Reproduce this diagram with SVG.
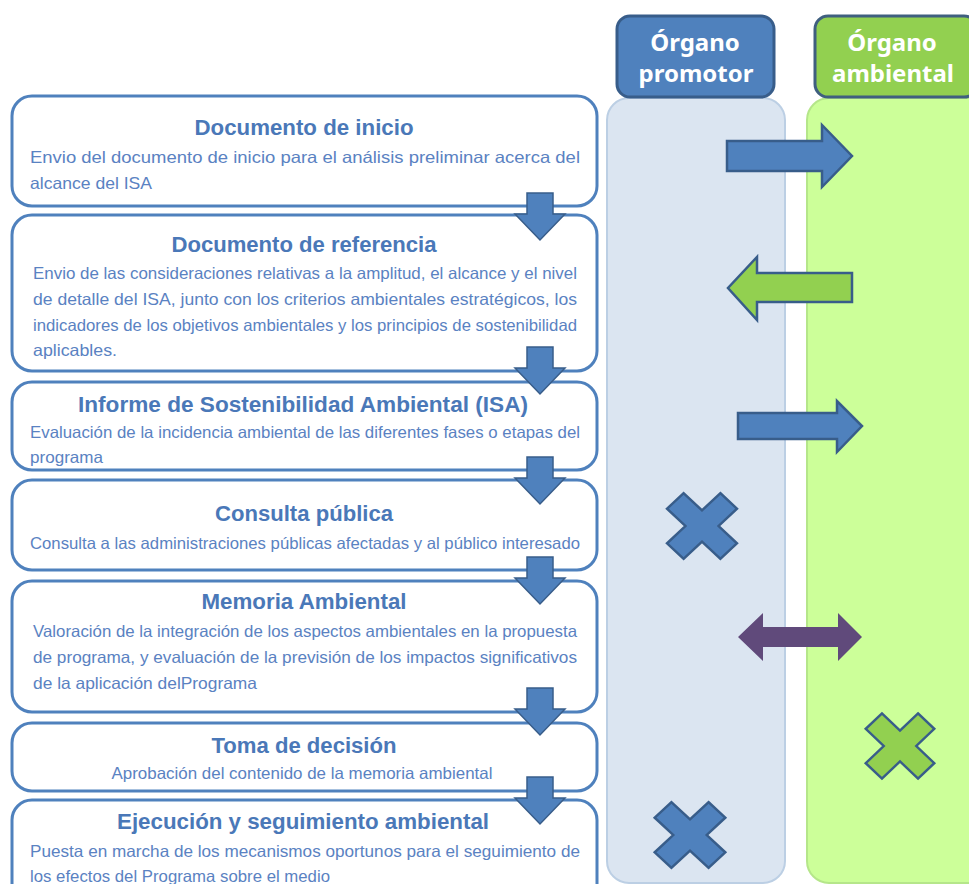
<svg xmlns="http://www.w3.org/2000/svg" width="969" height="884" viewBox="0 0 969 884">
<style>
.lane1{fill:#dbe5f1;stroke:#bccfe4;stroke-width:2}
.lane2{fill:#ccff99;stroke:#b5e68a;stroke-width:2}
.hdr1{fill:#4f81bd;stroke:#385d8a;stroke-width:3}
.hdr2{fill:#92d050;stroke:#3f5f7f;stroke-width:3}
.hdrtxt{font-family:"Noto Sans","Open Sans",sans-serif;font-weight:700;font-size:24px;fill:#ffffff;text-anchor:middle}
.box{fill:#ffffff;stroke:#4f81bd;stroke-width:3}
.title{font-family:"Liberation Sans",Arial,sans-serif;font-weight:700;font-size:22px;fill:#4a78b8;text-anchor:middle}
.body{font-family:"Liberation Sans",Arial,sans-serif;font-size:16.5px;fill:#5a82c2}
.ctr{text-anchor:middle}
.down{fill:#4f81bd;stroke:#385d8a;stroke-width:1.5}
.blue{fill:#4f81bd;stroke:#385d8a;stroke-width:2.5}
.green{fill:#92d050;stroke:#385d8a;stroke-width:2.5}
.purple{fill:#604a7b}
</style>
<defs>
<polygon id="cross" points="-11.5,-37 11.5,-37 11.5,-11.5 37,-11.5 37,11.5 11.5,11.5 11.5,37 -11.5,37 -11.5,11.5 -37,11.5 -37,-11.5 -11.5,-11.5" transform="rotate(45)"/>
</defs>
<rect width="969" height="884" fill="#ffffff"/>

<g id="lane-promotor">
<rect class="lane1" x="607" y="98" width="178" height="785" rx="22"/>
</g>
<g id="lane-ambiental">
<rect class="lane2" x="807" y="98" width="185" height="785" rx="22"/>
</g>

<g id="hdr-promotor">
<rect class="hdr1" x="617" y="16" width="157" height="81" rx="13"/>
<text class="hdrtxt" x="695" y="51">Órgano</text>
<text class="hdrtxt" x="696" y="82">promotor</text>
</g>
<g id="hdr-ambiental">
<rect class="hdr2" x="815" y="16" width="162" height="81" rx="13"/>
<text class="hdrtxt" x="892" y="51">Órgano</text>
<text class="hdrtxt" x="893" y="82">ambiental</text>
</g>

<g id="n1">
<rect class="box" x="12" y="96" width="585" height="110" rx="20"/>
<text class="title" x="304" y="135" textLength="219" lengthAdjust="spacingAndGlyphs">Documento de inicio</text>
<text class="body" x="30" y="163" textLength="550" lengthAdjust="spacingAndGlyphs">Envio del documento de inicio para el análisis preliminar  acerca del</text>
<text class="body" x="30" y="189" textLength="122" lengthAdjust="spacingAndGlyphs">alcance del ISA</text>
</g>
<g id="n2">
<rect class="box" x="12" y="215" width="585" height="156" rx="20"/>
<text class="title" x="304" y="252" textLength="265" lengthAdjust="spacingAndGlyphs">Documento de referencia</text>
<text class="body" x="33" y="279" textLength="544" lengthAdjust="spacingAndGlyphs">Envio de las consideraciones relativas a la amplitud, el alcance  y el nivel</text>
<text class="body" x="33" y="305" textLength="544" lengthAdjust="spacingAndGlyphs">de detalle del ISA, junto con los criterios ambientales estratégicos, los</text>
<text class="body" x="33" y="331" textLength="544" lengthAdjust="spacingAndGlyphs">indicadores de los objetivos ambientales y los principios de sostenibilidad</text>
<text class="body" x="33" y="356" textLength="84" lengthAdjust="spacingAndGlyphs">aplicables.</text>
</g>
<g id="n3">
<rect class="box" x="12" y="382" width="585" height="88" rx="20"/>
<text class="title" x="303" y="412" textLength="450" lengthAdjust="spacingAndGlyphs">Informe de Sostenibilidad Ambiental (ISA)</text>
<text class="body" x="30" y="438" textLength="550" lengthAdjust="spacingAndGlyphs">Evaluación de la incidencia ambiental de las diferentes fases o etapas del</text>
<text class="body" x="30" y="463" textLength="73" lengthAdjust="spacingAndGlyphs">programa</text>
</g>
<g id="n4">
<rect class="box" x="12" y="480" width="585" height="90" rx="20"/>
<text class="title" x="304" y="521" textLength="178" lengthAdjust="spacingAndGlyphs">Consulta pública</text>
<text class="body" x="30" y="549" textLength="550" lengthAdjust="spacingAndGlyphs">Consulta a las administraciones públicas afectadas y al público interesado</text>
</g>
<g id="n5">
<rect class="box" x="12" y="581" width="585" height="131" rx="20"/>
<text class="title" x="304" y="609" textLength="205" lengthAdjust="spacingAndGlyphs">Memoria Ambiental</text>
<text class="body" x="33" y="637" textLength="544" lengthAdjust="spacingAndGlyphs">Valoración de la integración de los aspectos ambientales en la propuesta</text>
<text class="body" x="33" y="663" textLength="544" lengthAdjust="spacingAndGlyphs">de programa, y evaluación de la previsión de los impactos significativos</text>
<text class="body" x="33" y="689" textLength="224" lengthAdjust="spacingAndGlyphs">de la aplicación delPrograma</text>
</g>
<g id="n6">
<rect class="box" x="12" y="723" width="585" height="68" rx="20"/>
<text class="title" x="304" y="753" textLength="185" lengthAdjust="spacingAndGlyphs">Toma de decisión</text>
<text class="body ctr" x="302" y="779" textLength="381" lengthAdjust="spacingAndGlyphs">Aprobación del contenido de la memoria ambiental</text>
</g>
<g id="n7">
<rect class="box" x="12" y="800" width="585" height="110" rx="20"/>
<text class="title" x="303" y="829" textLength="372" lengthAdjust="spacingAndGlyphs">Ejecución y seguimiento ambiental</text>
<text class="body" x="30" y="857" textLength="550" lengthAdjust="spacingAndGlyphs">Puesta en marcha de los mecanismos oportunos para el seguimiento de</text>
<text class="body" x="30" y="882" textLength="300" lengthAdjust="spacingAndGlyphs">los efectos del Programa sobre el medio</text>
</g>

<g id="connectors">
<polygon class="down" points="527,193 553,193 553,214 565,214 540,240 515,214 527,214"/>
<polygon class="down" points="527,347 553,347 553,368 565,368 540,394 515,368 527,368"/>
<polygon class="down" points="527,457 553,457 553,478 565,478 540,504 515,478 527,478"/>
<polygon class="down" points="527,557 553,557 553,578 565,578 540,604 515,578 527,578"/>
<polygon class="down" points="527,688 553,688 553,709 565,709 540,735 515,709 527,709"/>
<polygon class="down" points="527,777 553,777 553,798 565,798 540,824 515,798 527,798"/>
</g>

<g id="flows">
<polygon class="blue" points="727,141 822,141 822,125 852,156 822,187 822,171 727,171"/>
<polygon class="green" points="852,273 757,273 757,257 728,288 757,320 757,302 852,302"/>
<polygon class="blue" points="738,413 837,413 837,401 862,426 837,452 837,439 738,439"/>
<polygon class="purple" points="738,637 763,613 763,627 838,627 838,613 862,637 838,661 838,647 763,647 763,661"/>
<use href="#cross" class="blue" transform="translate(702,526) scale(1.02,0.96)"/>
<use href="#cross" class="green" transform="translate(900,746) scale(1,0.95)"/>
<use href="#cross" class="blue" transform="translate(690,835) scale(1.03,0.96)"/>
</g>
</svg>
